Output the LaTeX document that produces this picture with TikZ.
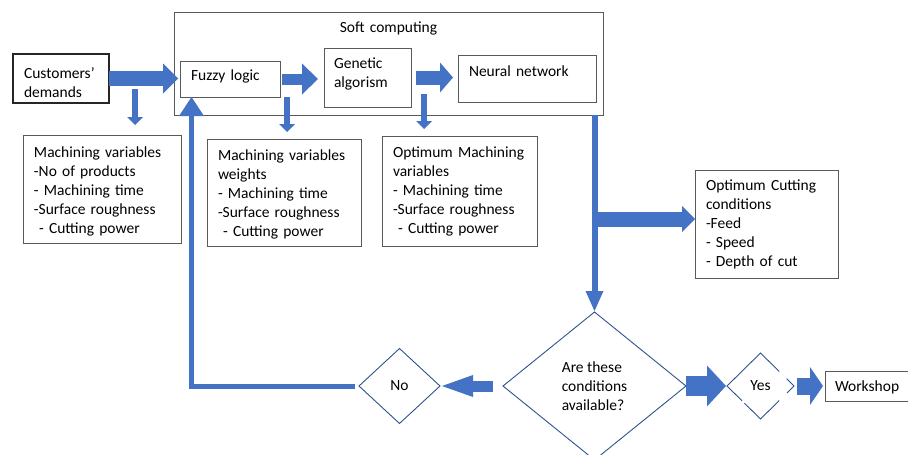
\documentclass[tikz,border=0pt]{standalone}
\usepackage{fontspec}
\setmainfont{Carlito}
\usetikzlibrary{arrows.meta,shapes.geometric,calc}
\definecolor{ablue}{HTML}{4472C4}
\definecolor{dblue}{HTML}{2F528F}
\definecolor{boxgray}{HTML}{595959}
\begin{document}
\begin{tikzpicture}[x=1pt,y=-1pt,
  every node/.style={font=\fontsize{15.5pt}{19pt}\selectfont, outer sep=0pt},
  tbox/.style={draw=boxgray, line width=0.8pt, align=left, inner xsep=11pt, inner ysep=0pt, anchor=north west},
  dia/.style={diamond, draw=dblue, line width=0.9pt, inner sep=0pt, align=left},
  barrow/.style n args={3}{color=ablue, line width=#1, -{Triangle[length=#2, width=#3, line width=0pt]}},
  sarrow/.style={color=ablue, line width=6.5pt, -{Triangle[length=8pt, width=16pt, line width=0pt]}},
  dline/.style={draw=dblue, line width=0.9pt}]
\useasboundingbox (0,0) rectangle (908,455);
\clip (0,0) rectangle (908,455);

% boxes
\node[tbox, text width=407pt, align=center, inner xsep=11pt, text height=20pt, text depth=83pt] (soft) at (174,12) {Soft computing};
\node[tbox, text width=74pt, text height=24pt, text depth=25pt, draw=black!85, line width=1.2pt] (cust) at (13,54) {Customers’\\demands};
\node[tbox, text width=78pt, text height=19pt, text depth=17pt] (fuzzy) at (180,61) {Fuzzy logic};
\node[tbox, inner xsep=10pt, text width=67pt, text height=20pt, text depth=39pt] (genetic) at (324,48) {Genetic\\algorism};
\node[tbox, text width=116pt, text height=21pt, text depth=26pt] (neural) at (458,55) {Neural network};

\node[tbox, text width=136pt, text height=22pt, text depth=86pt] (mv1) at (23,135)
  {Machining variables\\-No of products\\- Machining time\\-Surface roughness\\\ - Cutting power};
\node[tbox, text width=132pt, text height=21pt, text depth=86pt] (mv2) at (207,139)
  {Machining variables\\weights\\- Machining time\\-Surface roughness\\\ - Cutting power};
\node[tbox, text width=133pt, text height=21pt, text depth=89pt] (mv3) at (382,136)
  {Optimum Machining\\variables\\- Machining time\\-Surface roughness\\\ - Cutting power};
\node[tbox, text width=121pt, text height=20pt, text depth=88pt] (optc) at (695,170)
  {Optimum Cutting\\conditions\\-Feed\\- Speed\\- Depth of cut};
\node[tbox, inner xsep=10pt, text width=75pt, text height=20pt, text depth=10pt] (work) at (825,371) {Workshop};

% diamonds
\node[dia, minimum width=183pt, minimum height=148pt] (bigd) at (594.5,386) {Are these\\conditions\\available?};
\node[dia, minimum width=81pt, minimum height=75pt] (no) at (399.5,386) {No};
\node[dia, draw=none, minimum width=67pt, minimum height=66pt] (yes) at (760.5,386) {Yes};
\draw[dline] ($(yes.south)!0.55!(yes.west)$) -- (yes.west) -- (yes.north) -- ($(yes.north)!0.56!(yes.east)$);
\draw[dline] ($(yes.north)!0.78!(yes.east)$) -- (yes.east) -- ($(yes.east)!0.21!(yes.south)$);
\draw[dline] ($(yes.east)!0.44!(yes.south)$) -- (yes.south) -- ($(yes.south)!0.48!(yes.west)$);

% coordinates
\coordinate (d1) at (135,89);
\coordinate (d2) at (287,97);
\coordinate (d3) at (424,94);
\coordinate (br) at (595,219);
\coordinate (fbtip) at ($(fuzzy.south west)+(11.5,0)$);

% block arrows
\draw[barrow={15pt}{15pt}{30pt}, shorten >=2pt] (cust.east) -- (cust.east -| fuzzy.west);
\draw[barrow={11pt}{16pt}{31pt}, shorten <=2pt, shorten >=6pt] (fuzzy.east) -- (fuzzy.east -| genetic.west);
\draw[barrow={14pt}{13pt}{30pt}, shorten <=5pt, shorten >=5pt] (genetic.east) -- (genetic.east -| neural.west);

\draw[sarrow, shorten >=10pt] (d1) -- (d1 |- mv1.north);
\draw[sarrow, shorten >=7pt] (d2) -- (d2 |- mv2.north);
\draw[sarrow, shorten >=7pt] (d3) -- (d3 |- mv3.north);

\draw[barrow={6pt}{20pt}{18pt}, shorten >=1pt] (soft.south -| bigd.north) -- (bigd.north);
\draw[barrow={15pt}{13pt}{26pt}] (br) -- (br -| optc.west);

\draw[barrow={11pt}{31pt}{22pt}, shorten <=10pt, shorten >=2pt] (bigd.west) -- (no.east);
\draw[barrow={20pt}{19pt}{41pt}, shorten >=1pt] (bigd.east) -- (yes.west);
\draw[barrow={17pt}{13pt}{38pt}, shorten <=3pt, shorten >=2pt] (yes.east) -- (work.west);

\draw[barrow={5pt}{19pt}{25pt}, shorten <=4pt] (no.west) -| (fbtip);
\end{tikzpicture}
\end{document}
